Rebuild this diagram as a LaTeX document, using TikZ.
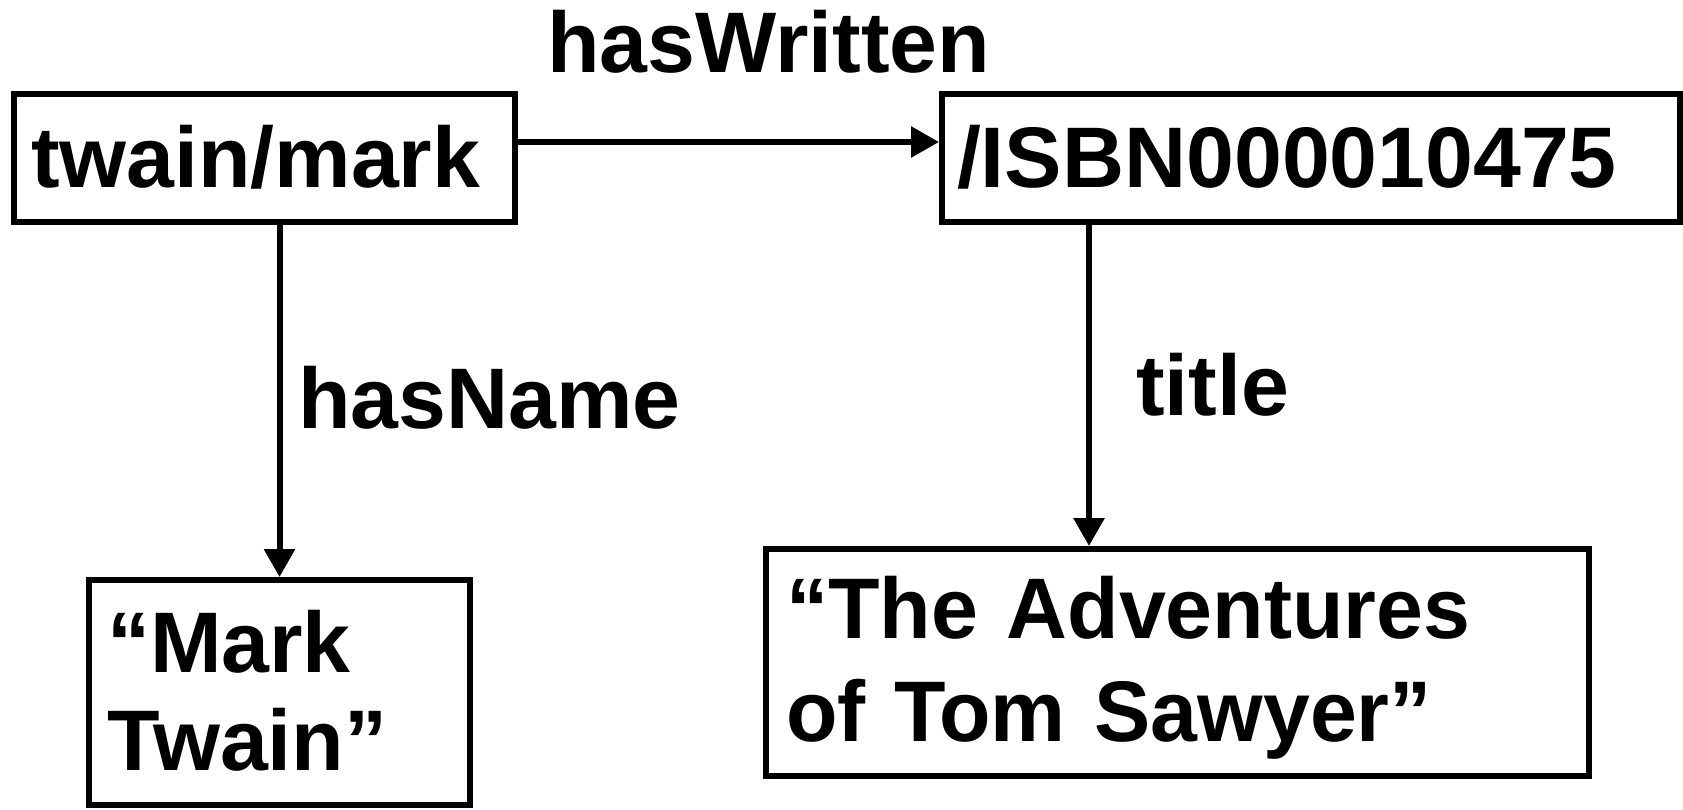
\documentclass[tikz,border=0pt]{standalone}
\usepackage{fontspec}
\setmainfont{Liberation Sans}
\newfontfamily\narrowsans[FakeStretch=0.98]{Liberation Sans}
\usetikzlibrary{arrows.meta}
\begin{document}
\begin{tikzpicture}[x=1pt,y=-1pt,
  every node/.style={font=\fontsize{86}{98}\selectfont\bfseries},
  resource/.style={draw, line width=6pt, inner ysep=0pt, align=left, anchor=north west},
  edgelabel/.style={inner sep=0pt, anchor=base west},
  link/.style={line width=6pt, -{Triangle[length=28pt,width=30pt]}}]
\useasboundingbox (0,0) rectangle (1683,809);

% resources and literals
\node[resource, text width=467pt, inner xsep=17pt, text height=93pt, text depth=35pt]
  (tm) at (11,91) {twain/mark};
\node[resource, text width=708pt, inner xsep=15pt, text height=93pt, text depth=35pt]
  (isbn) at (939,91) {/ISBN000010475};
\node[resource, text width=345pt, inner xsep=18pt, text height=92pt, text depth=133pt]
  (mt) at (86,577) {“Mark\\Twain”};
\node[resource, text width=783pt, inner xsep=20pt, text height=89pt, text depth=138pt,
  font=\narrowsans\fontsize{86}{103}\selectfont\bfseries]
  (ttl) at (763,546) {“The Adventures\\of Tom Sawyer”};

% property labels
\node[edgelabel] (lhw) at (547,72) {hasWritten};
\node[edgelabel] (lhn) at (298,428) {hasName};
\node[edgelabel] (lti) at (1136,415) {title};

% properties
\coordinate (hwy) at (0,142);
\coordinate (tix) at (1089,0);
\draw[link] (tm.east |- hwy) -- (isbn.west |- hwy);
\draw[link] (tm.south -| mt.north) -- (mt.north);
\draw[link] (isbn.south -| tix) -- (ttl.north -| tix);
\end{tikzpicture}
\end{document}
